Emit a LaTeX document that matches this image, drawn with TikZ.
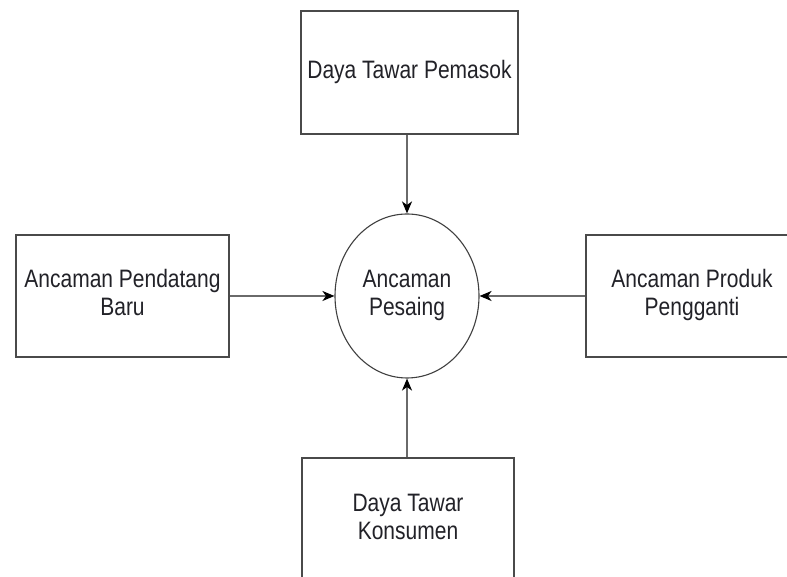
\documentclass[tikz,border=0pt]{standalone}
\usepackage{fontspec}
\setmainfont{Liberation Sans}
\usetikzlibrary{shapes.geometric,arrows.meta}
\definecolor{boxline}{HTML}{4A4A4A}
\definecolor{arrowline}{HTML}{6A6A6A}
\definecolor{txt}{HTML}{222228}
\newcommand{\talltext}[1]{\scalebox{1}[1.2]{\begin{tabular}{@{}c@{}}#1\end{tabular}}}
\begin{document}
\begin{tikzpicture}[x=1pt,y=1pt,
  factor/.style={draw=boxline, line width=1.4pt, rectangle, inner sep=0pt,
    align=center, text=txt, font=\fontsize{21}{23.5}\selectfont},
  center/.style={draw=black!75, line width=1.1pt, ellipse, inner sep=0pt,
    align=center, text=txt, font=\fontsize{21}{23.5}\selectfont,
    minimum width=144pt, minimum height=164pt},
  flow/.style={draw=arrowline, line width=1.7pt,
    -{Stealth[length=12pt,width=10pt,inset=3.5pt,color=black]}}]
\useasboundingbox (0,0) rectangle (787,577);
\fill[white] (0,0) rectangle (787,577);
\begin{scope}
\clip (0,0) rectangle (787,577);
\node[factor, minimum width=217pt, minimum height=123pt] (top) at (409.5,504.5) {\talltext{Daya Tawar Pemasok}};
\node[factor, minimum width=213pt, minimum height=122pt] (left) at (122.5,281) {\talltext{Ancaman Pendatang\\Baru}};
\node[factor, minimum width=212pt, minimum height=122pt] (right) at (692,281) {\talltext{Ancaman Produk\\Pengganti}};
\node[factor, minimum width=212pt, minimum height=124pt] (bottom) at (408,57) {\talltext{Daya Tawar\\Konsumen}};
\node[center] (mid) at (407,281) {\talltext{Ancaman\\Pesaing}};
\draw[flow] (top.south -| mid.north) -- (mid.north);
\draw[flow] (left.east) -- (mid.west);
\draw[flow] (right.west) -- (mid.east);
\draw[flow] (bottom.north -| mid.south) -- (mid.south);
\end{scope}
\end{tikzpicture}
\end{document}
